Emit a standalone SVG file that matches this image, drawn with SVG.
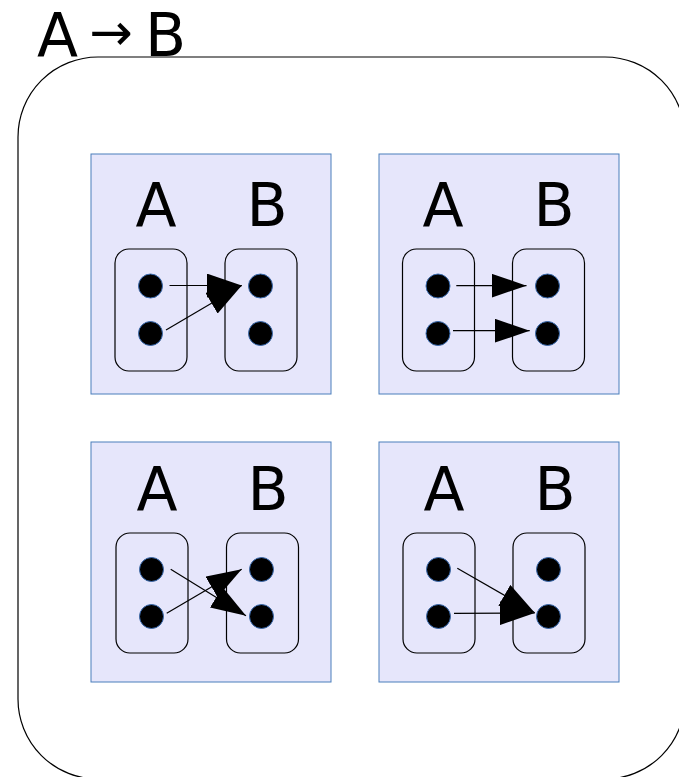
<svg xmlns="http://www.w3.org/2000/svg" width="679" height="777" viewBox="0 0 679 777">
<defs>
<style>
.title{font-family:"DejaVu Sans","Liberation Sans",sans-serif;font-size:60px;fill:#000}
.lbl{font-family:"DejaVu Sans","Liberation Sans",sans-serif;font-size:60px;fill:#000;text-anchor:middle}
.panel{fill:#e6e6fb;stroke:#4a7ebb;stroke-width:1}
.set{fill:none;stroke:#000;stroke-width:1.2}
.dot{fill:#000;stroke:#3a6bb0;stroke-width:1}
.edge{stroke:#000;stroke-width:1.2;fill:none;marker-end:url(#ah)}
.outer{fill:none;stroke:#000;stroke-width:1.2}
</style>
<marker id="ah" markerUnits="userSpaceOnUse" markerWidth="35" markerHeight="24" viewBox="0 0 35 24" refX="35" refY="12" orient="auto">
<path d="M0,0 L35,12 L0,24 z" fill="#000"/>
</marker>
</defs>
<rect fill="#fff" x="0" y="0" width="679" height="777"/>
<g id="frame">
<rect class="outer" x="18" y="57" width="667" height="722" rx="80" ry="80"/>
<text class="title" y="56"><tspan x="37">A</tspan><tspan x="111" y="50" text-anchor="middle" style="font-size:52px">→</tspan><tspan x="145" y="56">B</tspan></text>
</g>
<g id="panel1">
<rect class="panel" x="91" y="154" width="240" height="240"/>
<text class="lbl" x="156" y="226">A</text>
<text class="lbl" x="267" y="226">B</text>
<rect class="set" x="115" y="249" width="72" height="122" rx="14"/>
<rect class="set" x="225" y="249" width="72" height="122" rx="14"/>
<circle class="dot" cx="150.5" cy="286" r="12"/>
<circle class="dot" cx="150.5" cy="333.5" r="12"/>
<circle class="dot" cx="260.5" cy="286" r="12"/>
<circle class="dot" cx="260.5" cy="333.5" r="12"/>
</g>
<g id="panel2">
<rect class="panel" x="379" y="154" width="240" height="240"/>
<text class="lbl" x="443" y="226">A</text>
<text class="lbl" x="554" y="226">B</text>
<rect class="set" x="402.5" y="249" width="72" height="122" rx="14"/>
<rect class="set" x="512.5" y="249" width="72" height="122" rx="14"/>
<circle class="dot" cx="438" cy="286" r="12"/>
<circle class="dot" cx="438" cy="333.5" r="12"/>
<circle class="dot" cx="547.5" cy="286" r="12"/>
<circle class="dot" cx="547.5" cy="333.5" r="12"/>
</g>
<g id="panel3">
<rect class="panel" x="91" y="442" width="240" height="240"/>
<text class="lbl" x="157" y="510">A</text>
<text class="lbl" x="268" y="510">B</text>
<rect class="set" x="116" y="533" width="72" height="120" rx="14"/>
<rect class="set" x="226.5" y="533" width="72" height="120" rx="14"/>
<circle class="dot" cx="151.5" cy="569.5" r="12"/>
<circle class="dot" cx="151.5" cy="616.5" r="12"/>
<circle class="dot" cx="261.5" cy="569.5" r="12"/>
<circle class="dot" cx="261.5" cy="616.5" r="12"/>
</g>
<g id="panel4">
<rect class="panel" x="379" y="442" width="240" height="240"/>
<text class="lbl" x="444" y="510">A</text>
<text class="lbl" x="555" y="510">B</text>
<rect class="set" x="403" y="533" width="72" height="120" rx="14"/>
<rect class="set" x="513" y="533" width="72" height="120" rx="14"/>
<circle class="dot" cx="438.5" cy="569.5" r="12"/>
<circle class="dot" cx="438.5" cy="616.5" r="12"/>
<circle class="dot" cx="548.5" cy="569.5" r="12"/>
<circle class="dot" cx="548.5" cy="616.5" r="12"/>
</g>
<g id="connectors">
<line class="edge" x1="169.5" y1="285.5" x2="241.7" y2="285.5"/>
<line class="edge" x1="166" y1="330" x2="241.7" y2="285.5"/>
<line class="edge" x1="456.3" y1="285.7" x2="526.5" y2="285.7"/>
<line class="edge" x1="453" y1="330.7" x2="529.7" y2="330.7"/>
<line class="edge" x1="170.7" y1="569.3" x2="246" y2="615.7"/>
<line class="edge" x1="166.7" y1="613.3" x2="241.7" y2="569.3"/>
<line class="edge" x1="457.3" y1="568.3" x2="534.7" y2="612.7"/>
<line class="edge" x1="454" y1="613.3" x2="534.7" y2="613"/>
</g>
</svg>
